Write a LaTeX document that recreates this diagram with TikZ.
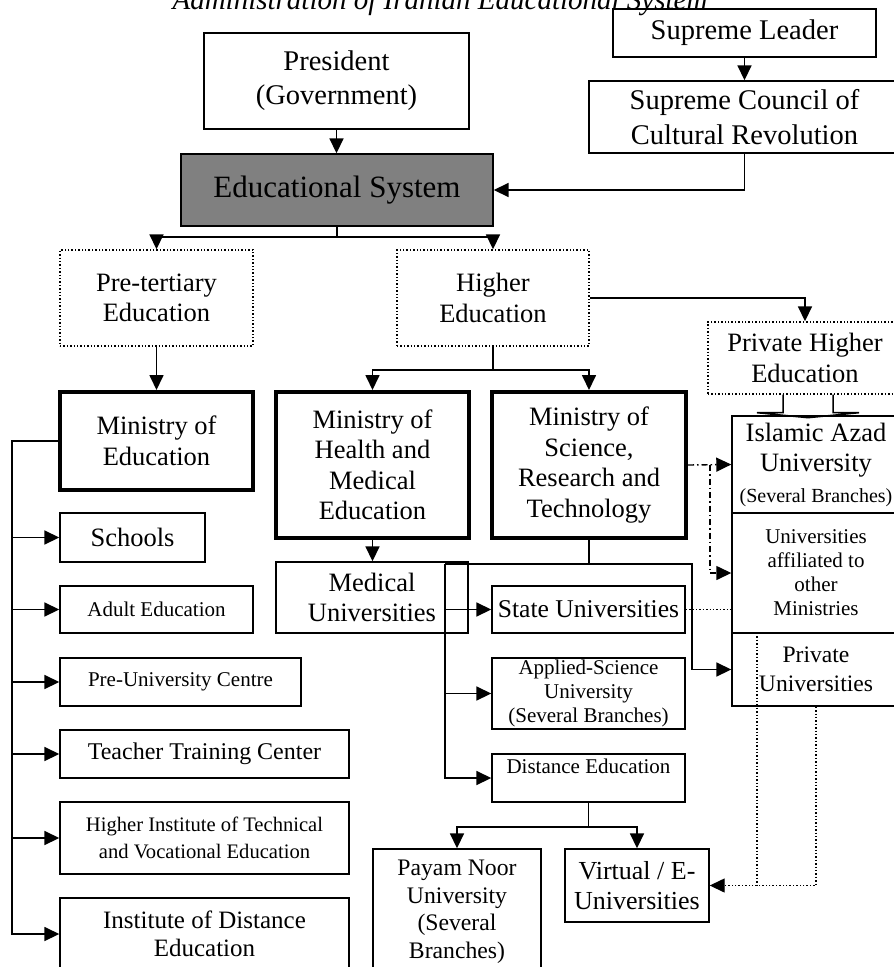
\documentclass[tikz,border=0pt]{standalone}
\usepackage{fontspec}
\setmainfont{Liberation Serif}
\usepackage{tikz}
\usetikzlibrary{calc,arrows.meta}
\definecolor{sysc}{HTML}{808080}
\newcommand\fs[2]{\fontsize{#1}{#2}\selectfont}
\tikzset{
  ar/.style={-{Triangle[length=15pt,width=14pt]},line width=1.7pt},
  ln/.style={line width=1.7pt},
  box/.style={draw,line width=1.4pt,align=center,inner sep=0pt,font=\fs{26.5}{30.5}},
  thk/.style={box,line width=4pt},
  dbox/.style={box,dotted},
  dd/.style={line width=1.4pt,dash pattern=on 6pt off 3pt on 1.5pt off 3pt},
  dt/.style={line width=1.4pt,dotted},
  sm/.style={font=\fs{21}{24}}
}
\begin{document}
\begin{tikzpicture}[x=1pt,y=-1pt]
\useasboundingbox (0,0) rectangle (894,967);
\node[font=\fs{29}{34}\itshape,anchor=base] (ttl) at (440,9) {Administration of Iranian Educational System};
\node[box,minimum width=263,minimum height=48,font=\fs{28.5}{33}] (lead) at (744.5,33) {Supreme Leader};
\node[box,minimum width=265,minimum height=96,font=\fs{28.5}{34}] (pres) at (336.5,81) {President\\(Government)};
\node[box,minimum width=311,minimum height=72,font=\fs{28.5}{35}] (council) at (744.5,117) {Supreme Council of\\Cultural Revolution};
\node[box,fill=sysc,minimum width=312,minimum height=72,font=\fs{31}{36}] (edu) at (337,190) {Educational System};
\node[dbox,minimum width=193,minimum height=96] (pre) at (156.5,298) {Pre-tertiary\\Education};
\node[dbox,minimum width=192,minimum height=96] (high) at (493,298) {Higher\\Education};
\node[dbox,minimum width=194,minimum height=72] (phe) at (805,358) {Private Higher\\Education};
\node[thk,minimum width=193,minimum height=98] (moe) at (156.5,441) {Ministry of\\Education};
\node[thk,minimum width=193,minimum height=146] (mohme) at (372.5,465) {Ministry of\\Health and\\Medical\\Education};
\node[thk,minimum width=194,minimum height=146] (msrt) at (589,465) {Ministry of\\Science,\\Research and\\Technology};
\node[box,minimum width=168,minimum height=97] (azad) at (816,464.5) {Islamic Azad\\University\\{\fs{20}{24}(Several Branches)}};
\node[box,sm,minimum width=168,minimum height=120] (affil) at (816,573) {Universities\\affiliated to\\other\\Ministries};
\node[box,minimum width=168,minimum height=73,font=\fs{23.6}{29}] (priv) at (816,669.5) {Private\\Universities};
\node[box,minimum width=192,minimum height=71] (med) at (372,597.5) {Medical\\Universities};
\node[box,minimum width=193,minimum height=47,font=\fs{25.6}{30}] (state) at (588.5,609.5) {State Universities};
\node[box,sm,minimum width=193,minimum height=71] (appl) at (588.5,693.5) {Applied-Science\\University\\(Several Branches)};
\node[box,sm,minimum width=193,minimum height=48] (dist) at (588.5,778) {Distance Education\\\mbox{}};
\node[box,minimum width=168,minimum height=126,font=\fs{23.7}{27.5}] (payam) at (457,912) {Payam Noor\\University\\(Several\\Branches)};
\node[box,minimum width=144,minimum height=73,font=\fs{26}{30}] (virt) at (637,885.5) {Virtual / E-\\Universities};
\node[box,minimum width=145,minimum height=49] (sch) at (132.5,537.5) {Schools};
\node[box,sm,minimum width=193,minimum height=47] (adult) at (156.5,609.5) {Adult Education};
\node[box,sm,minimum width=241,minimum height=48] (preu) at (180.5,682) {Pre-University Centre};
\node[box,minimum width=289,minimum height=48,font=\fs{24}{28}] (teach) at (204.5,754) {Teacher Training Center};
\node[box,minimum width=289,minimum height=72,font=\fs{20.6}{27.5}] (hinst) at (204.5,838) {Higher Institute of Technical\\and Vocational Education};
\node[box,minimum width=289,minimum height=72,font=\fs{25}{28}] (idist) at (204.5,934) {Institute of Distance\\Education};
\draw[ar] (lead) -- (council);
\draw[ar] (pres.south) -- (pres.south |- edu.north);
\draw[ar] (council.south) |- (edu.east);
\draw[ln] (edu.south) -- ++(0,10) coordinate (ej);
\draw[ar] (ej) -| (pre.north);
\draw[ar] (ej) -| (high.north);
\draw[ar] (pre) -- (moe);
\draw[ar] (high.east) -| (phe.north);
\draw[ln] (high.south) -- ++(0,23) coordinate (hj);
\draw[ar] (hj) -| (mohme.north);
\draw[ar] (hj) -| (msrt.north);
\draw[line width=1.5pt] ([xshift=-22pt]phe.south) -- ++(0,18) -- ++(-26,0) -- ++(51,5) -- ++(51,-5) -- ++(-26,0) -- ++(0,-18);
\foreach \n in {sch,adult,preu,teach,hinst,idist}
  \draw[ar] (moe.west) -- ++(-46,0) |- (\n.west);
\draw[ar] (mohme.south) -- (mohme.south |- med.north);
\draw[ln] (msrt.south) -- ++(0,24) coordinate (mj);
\draw[ln] (mj) -- ++(-144,0) coordinate (mjl);
\draw[ar] (mj) -- ++(103,0) |- (priv.west);
\foreach \n in {state,appl,dist}
  \draw[ar] (mjl) |- (\n.west);
\draw[dd,-{Triangle[length=15pt,width=14pt]}] (msrt.east) -- (azad.west);
\draw[dd,-{Triangle[length=15pt,width=14pt]}] ([xshift=22pt]msrt.east) |- (affil.west);
\draw[dt] (state.east) -- (state.east -| affil.west);
\draw[ln] (dist.south) -- ++(0,24) coordinate (dj);
\draw[ar] (dj) -| (payam.north);
\draw[ar] (dj) -| (virt.north);
\draw[dt,-{Triangle[length=15pt,width=14pt]}] (priv.south) |- (virt.east);
\draw[dt] ([shift={(-59,4)}]priv.north) -- ([xshift=-59pt]priv.north |- virt.east);
\end{tikzpicture}
\end{document}
